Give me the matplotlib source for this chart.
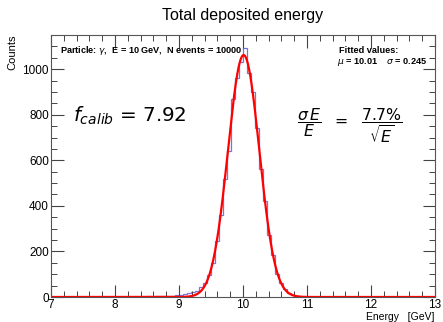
import numpy as np
import matplotlib
matplotlib.use("Agg")
import matplotlib.pyplot as plt
from matplotlib.ticker import MultipleLocator

# ---- data ----
x_min, x_max, bin_width = 7.0, 13.0, 0.0625
counts = (
    [0] * 16 +
    [0, 0, 0, 1, 0, 2, 1, 2, 3, 2, 4, 3, 5, 4, 6, 8] +          # 8.0 - 9.0
    [10, 12, 16, 20, 28, 42, 62, 98] +                          # 9.0 - 9.5
    [150, 245, 360, 520, 640, 870, 960, 1030] +                 # 9.5 - 10.0
    [1092, 985, 900, 740, 560, 420, 270, 185] +                 # 10.0 - 10.5
    [100, 60, 35, 18, 8, 4, 2, 1] +                             # 10.5 - 11.0
    [0] * 32
)
fit_amp, fit_mu, fit_sigma = 1062.0, 10.01, 0.245
x_ticks = [7, 8, 9, 10, 11, 12, 13]
y_ticks = [0, 200, 400, 600, 800, 1000]

plt.rcParams['font.family'] = ['Liberation Sans', 'DejaVu Sans']

fig = plt.figure(figsize=(4.43, 3.22), dpi=100)
ax = fig.add_axes([51/443, 1 - 297/322, (435-51)/443, (297-35)/322])

edges = x_min + bin_width * np.arange(len(counts) + 1)
ax.stairs(counts, edges, color='#5a4fd6', linewidth=0.9, alpha=0.8)

xf = np.linspace(x_min, x_max, 1200)
yf = fit_amp * np.exp(-0.5 * ((xf - fit_mu) / fit_sigma) ** 2)
ax.plot(xf, yf, color='#ff0000', linewidth=1.6)

ax.set_xlim(x_min, x_max)
ax.set_ylim(0, 1150)
ax.set_xticks(x_ticks)
ax.set_yticks(y_ticks)
ax.xaxis.set_minor_locator(MultipleLocator(0.2))
ax.yaxis.set_minor_locator(MultipleLocator(50))
ax.tick_params(which='both', direction='in', top=True, right=True,
               color='#444444', labelsize=8.5, pad=1.5)
ax.tick_params(which='major', length=9, width=0.8)
ax.tick_params(which='minor', length=4.5, width=0.7)
for s in ax.spines.values():
    s.set_color('#555555')
    s.set_linewidth(0.8)

fig.text(0.547, 0.953, 'Total deposited energy', ha='center', va='center', fontsize=11.5)
fig.text(12/443, 1 - 35/322, 'Counts', rotation=90, ha='center', va='top', fontsize=8)
fig.text(435/443, 1 - 317/322, 'Energy   [GeV]', ha='right', va='center', fontsize=7.5)

ax.text(0.024, 0.94, r'Particle: $\gamma$,  E = 10 GeV,  N events = 10000',
        transform=ax.transAxes, fontsize=6.6, fontweight='bold', va='center')
ax.text(0.749, 0.94, 'Fitted values:', transform=ax.transAxes, fontsize=6.6,
        fontweight='bold', va='center')
ax.text(0.745, 0.897, r'$\mu$ = 10.01    $\sigma$ = 0.245', transform=ax.transAxes,
        fontsize=6.6, fontweight='bold', va='center')

ax.text(0.057, 0.69, r'$f_{calib}$ = 7.92', transform=ax.transAxes, fontsize=14.3,
        va='center', family='DejaVu Sans')
ax.text(0.64, 0.655, r'$\dfrac{\sigma\,E}{E}\ \ =\ \ \dfrac{7.7\%}{\sqrt{E}}$',
        transform=ax.transAxes, fontsize=11.3, va='center', family='DejaVu Sans')

fig.savefig('out.png', dpi=100)
